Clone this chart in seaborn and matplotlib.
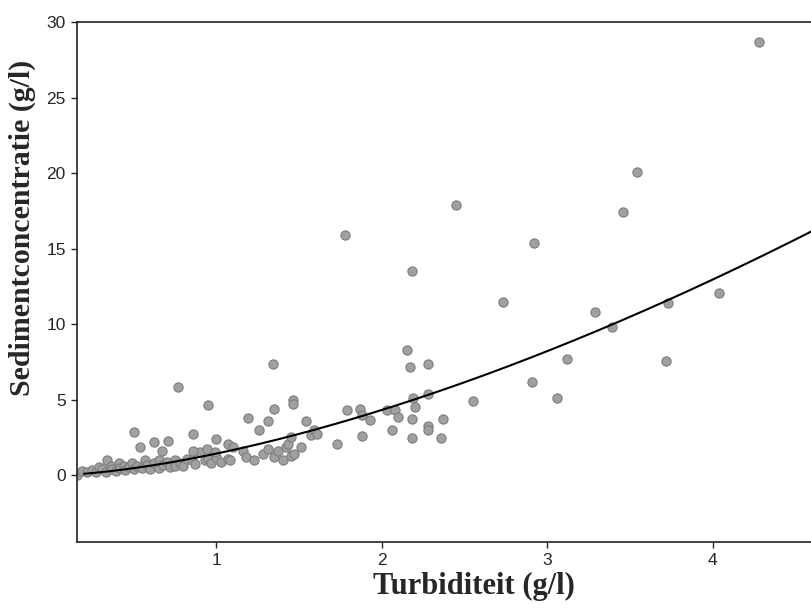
import numpy as np
import pandas as pd
import matplotlib
matplotlib.use("Agg")
import matplotlib.pyplot as plt
import seaborn as sns

# turbidity (g/l) vs sediment concentration (g/l)
turbiditeit = [
    0.16, 0.19, 0.22, 0.25, 0.27, 0.29, 0.31, 0.33, 0.34, 0.36, 0.37, 0.39,
    0.41, 0.42, 0.44, 0.45, 0.47, 0.49, 0.50, 0.52, 0.55, 0.57, 0.58, 0.60,
    0.62, 0.65, 0.65, 0.68, 0.70, 0.72, 0.75, 0.75, 0.78, 0.80, 0.82, 0.85,
    0.87, 0.90, 0.93, 0.95, 0.97, 1.00, 1.03, 1.07, 1.08,
    0.50, 0.54, 0.62, 0.67, 0.71, 0.77, 0.86, 0.86, 0.94, 0.95, 0.99, 1.00,
    1.07, 1.10, 1.16, 1.18, 1.19, 1.23, 1.26, 1.28, 1.31, 1.31, 1.34, 1.35,
    1.35, 1.37, 1.40, 1.42, 1.43, 1.45, 1.45, 1.46, 1.46, 1.47, 1.51, 1.54,
    1.57, 1.59, 1.61, 1.73, 1.78, 1.79, 1.87, 1.88, 1.88, 1.93, 2.03, 2.06,
    2.08, 2.10, 2.15, 2.17, 2.18, 2.18, 2.18, 2.19, 2.20, 2.28, 2.28, 2.28,
    2.28, 2.36, 2.37, 2.45, 2.55, 2.73, 2.91, 2.92, 3.06, 3.12, 3.29, 3.39,
    3.46, 3.54, 3.72, 3.73, 4.04, 4.28,
]
sediment = [
    0.05, 0.30, 0.20, 0.35, 0.20, 0.55, 0.40, 0.25, 1.00, 0.60, 0.45, 0.30,
    0.80, 0.50, 0.65, 0.35, 0.55, 0.80, 0.45, 0.60, 0.50, 1.00, 0.70, 0.40,
    0.85, 1.05, 0.50, 0.70, 0.90, 0.55, 1.00, 0.65, 0.80, 0.60, 1.10, 1.00,
    0.75, 1.55, 1.00, 1.10, 0.80, 1.20, 0.90, 1.10, 1.00,
    2.90, 1.90, 2.20, 1.65, 2.30, 5.85, 2.75, 1.65, 1.75, 4.65, 1.55, 2.40,
    2.10, 1.90, 1.65, 1.20, 3.80, 1.00, 3.00, 1.45, 3.60, 1.75, 7.40, 4.40,
    1.20, 1.65, 1.00, 1.90, 2.10, 2.55, 1.30, 5.00, 4.75, 1.45, 1.90, 3.60,
    2.65, 3.00, 2.75, 2.05, 15.9, 4.35, 4.40, 2.60, 4.00, 3.70, 4.30, 3.00,
    4.30, 3.90, 8.30, 7.20, 13.5, 2.50, 3.75, 5.10, 4.50, 7.40, 5.40, 3.30,
    3.00, 2.50, 3.75, 17.9, 4.90, 11.5, 6.20, 15.4, 5.10, 7.70, 10.8, 9.80,
    17.4, 20.1, 7.55, 11.4, 12.1, 28.7,
]

# power-law fit drawn in the original: y = a * x^b
fit_a = 1.45
fit_b = 1.58

df = pd.DataFrame({"Turbiditeit": turbiditeit, "Sediment": sediment})
x_fit = np.linspace(0.2, 4.7, 200)
fit_df = pd.DataFrame({"Turbiditeit": x_fit, "Sediment": fit_a * x_fit ** fit_b})

sns.set_style("white")
plt.rcParams["font.family"] = ["Liberation Sans", "DejaVu Sans"]

fig = plt.figure(figsize=(8.12, 6.09), dpi=100)
ax = fig.add_axes([0.0948, 0.110, 0.9052, 0.854])

sns.scatterplot(data=df, x="Turbiditeit", y="Sediment", ax=ax, s=44,
                color="#a0a0a0", edgecolor="#7d7d7d", linewidth=0.8, zorder=2)
sns.lineplot(data=fit_df, x="Turbiditeit", y="Sediment", ax=ax,
             color="black", linewidth=1.5, zorder=3)

ax.set_xlim(0.157, 4.6)
ax.set_ylim(-4.4, 30)
ax.set_xticks([1, 2, 3, 4])
ax.set_yticks([0, 5, 10, 15, 20, 25, 30])
ax.tick_params(axis="both", direction="out", length=4, width=1, labelsize=12.5,
               bottom=True, left=True, pad=4)

for side in ["top", "left", "bottom"]:
    ax.spines[side].set_color("#222222")
    ax.spines[side].set_linewidth(1.2)
ax.spines["right"].set_visible(False)

serif = ["Liberation Serif", "DejaVu Serif"]
ax.set_xlabel("Turbiditeit (g/l)", fontsize=22, fontweight="bold", family=serif)
ax.set_ylabel("Sedimentconcentratie (g/l)", fontsize=21.5, fontweight="bold", family=serif)
ax.xaxis.set_label_coords(0.54, -0.058)
ax.yaxis.set_label_coords(-0.056, 0.604)

fig.savefig("out.png", dpi=100)
